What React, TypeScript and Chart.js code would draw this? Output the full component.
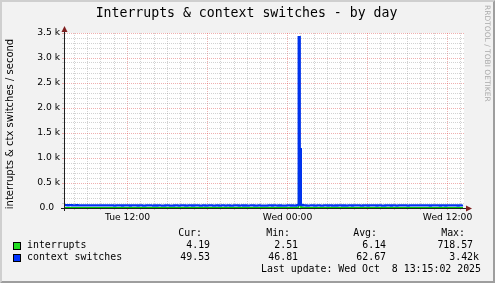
import { useEffect, useRef } from 'react';
import { Chart, registerables } from 'chart.js';

Chart.register(...registerables);

// time in minutes relative to Wed 00:00
const X_MIN = -1006; // Tue 07:14
const X_MAX = 794; // Wed 13:14
const SAMPLE_START = -1005;
const SAMPLE_STEP = 5;

const contextSwitches = [
  58, 57, 55, 56, 54, 55, 57, 56, 53, 54, 52, 53, 56, 55, 54, 53, 51, 52, 53, 54,
  55, 53, 52, 51, 50, 52, 54, 53, 53, 52, 51, 50, 55, 54, 52, 53, 50, 51, 53, 52,
  52, 51, 54, 53, 51, 50, 49, 50, 53, 52, 52, 51, 50, 49, 51, 52, 54, 53, 52, 51,
  49, 50, 51, 52, 53, 51, 50, 49, 52, 51, 51, 50, 48, 49, 50, 51, 53, 52, 51, 50,
  50, 49, 52, 51, 49, 50, 51, 50, 50, 49, 48, 49, 52, 51, 51, 50, 49, 50, 48, 49,
  53, 52, 51, 50, 49, 50, 52, 51, 50, 51, 48, 49, 50, 51, 52, 51, 49, 48, 51, 50,
  52, 51, 50, 49, 49, 50, 51, 52, 48, 49, 50, 51, 52, 51, 50, 49, 49, 50, 51, 52,
  48, 49, 50, 51, 52, 50, 49, 50, 51, 52, 48, 49, 49, 50, 51, 50, 52, 51, 49, 50,
  50, 51, 48, 49, 51, 50, 49, 50, 50, 51, 52, 51, 48, 49, 49, 50, 51, 50, 49, 50,
  50, 49, 48, 49, 50, 51, 52, 51, 49, 50, 51, 50, 50, 49, 52, 51, 48, 49, 49, 50,
  49, 50, 51, 52, 50, 49, 51, 50, 48, 49, 55, 56, 3420, 1180, 64, 58, 54, 52, 51, 49,
  49, 50, 50, 51, 52, 51, 48, 49, 50, 51, 51, 50, 49, 48, 50, 51, 52, 51, 49, 50,
  51, 52, 48, 49, 50, 51, 49, 50, 52, 51, 50, 49, 51, 52, 48, 49, 50, 51, 53, 52,
  49, 50, 51, 50, 50, 51, 52, 50, 49, 48, 51, 52, 50, 51, 49, 50, 53, 52, 50, 51,
  52, 51, 49, 50, 53, 52, 50, 49, 48, 49, 51, 52, 52, 51, 50, 49, 54, 53, 51, 50,
  49, 50, 52, 51, 50, 52, 53, 51, 52, 50, 49, 50, 51, 52, 54, 53, 51, 50, 52, 51,
  54, 53, 51, 50, 50, 51, 53, 52, 52, 51, 49, 50, 51, 52, 55, 54, 52, 51, 50, 49,
  53, 52, 51, 50, 49, 51, 52, 53, 54, 52, 50, 51, 53, 52, 50, 49, 51, 52, 50, 49.53,
];

const interrupts = [
  7, 7, 6, 6, 6, 7, 7, 6, 5, 5, 5, 6, 6, 6, 5, 5, 5, 5, 6, 6,
  5, 5, 4, 5, 5, 5, 6, 6, 5, 5, 4, 4, 6, 6, 5, 5, 4, 5, 5, 5,
  5, 4, 5, 5, 4, 4, 3, 4, 5, 5, 5, 4, 4, 4, 5, 5, 5, 5, 4, 4,
  4, 4, 5, 5, 5, 4, 4, 4, 5, 5, 4, 4, 3, 3, 4, 4, 5, 5, 4, 4,
  4, 4, 5, 5, 4, 4, 5, 4, 4, 4, 3, 4, 5, 5, 4, 4, 4, 4, 3, 4,
  5, 5, 4, 4, 3, 4, 5, 5, 4, 5, 3, 4, 4, 5, 5, 4, 4, 3, 5, 4,
  5, 5, 4, 4, 4, 4, 5, 5, 3, 4, 4, 5, 5, 4, 4, 4, 4, 4, 5, 5,
  3, 4, 4, 5, 5, 4, 4, 4, 5, 5, 3, 4, 4, 4, 5, 4, 5, 5, 4, 4,
  4, 5, 3, 4, 5, 4, 4, 4, 4, 5, 5, 5, 3, 4, 4, 4, 5, 4, 4, 4,
  4, 4, 3, 4, 4, 5, 5, 5, 4, 4, 5, 4, 4, 4, 5, 5, 3, 4, 4, 4,
  4, 4, 5, 5, 4, 4, 5, 4, 3, 4, 8, 9, 718.57, 260, 14, 9, 6, 5, 5, 4,
  4, 4, 4, 5, 5, 5, 3, 4, 4, 5, 5, 4, 4, 3, 4, 5, 5, 5, 4, 4,
  5, 5, 3, 4, 4, 5, 4, 4, 5, 5, 4, 4, 5, 5, 3, 4, 4, 5, 6, 5,
  4, 4, 5, 4, 4, 5, 5, 4, 4, 3, 5, 5, 4, 5, 4, 4, 6, 5, 4, 5,
  5, 5, 4, 4, 6, 5, 4, 4, 3, 4, 5, 5, 5, 5, 4, 4, 6, 6, 5, 4,
  4, 4, 5, 5, 4, 5, 6, 5, 5, 4, 4, 4, 5, 5, 6, 6, 5, 4, 5, 5,
  6, 6, 5, 4, 4, 5, 6, 5, 5, 5, 4, 4, 5, 5, 6, 6, 5, 5, 4, 4,
  6, 5, 5, 4, 4, 5, 5, 6, 6, 5, 4, 5, 6, 5, 4, 4, 5, 5, 4, 4.19,
];

const xTickLabels: Record<string, string> = {
  '-720': 'Tue 12:00',
  '0': 'Wed 00:00',
  '720': 'Wed 12:00',
};
const Y_MAX = 3500;
const Y_MINOR = 100;
const Y_MAJOR = 500;
const X_MINOR = 60;
const X_MAJOR = 360;

const titleText = 'Interrupts & context switches - by day';
const yTitle = 'interrupts & ctx switches / second';
const legendHeaders = ['Cur:', 'Min:', 'Avg:', 'Max:'];
const seriesNames = ['interrupts', 'context switches'];
const interruptsStats = ['4.19', '2.51', '6.14', '718.57'];
const contextStats = ['49.53', '46.81', '62.67', '3.42k'];
const lastUpdate = 'Last update: Wed Oct  8 13:15:02 2025';
const watermark = 'RRDTOOL / TOBI OETIKER';

const GREEN = '#00cc00';
const GREEN_BOX = '#22dd22';
const BLUE = '#0033ee';
const BLUE_BOX = '#0033ff';
const GRID = 'rgba(143,143,143,0.4)';
const MGRID = 'rgba(222,79,79,0.45)';
const AXIS = '#1f1f1f';
const ARROW = '#7f1f1f';

const decorPlugin = {
  id: 'decor',
  beforeDraw(chart: any) {
    const { ctx, width, height, chartArea } = chart;
    ctx.save();
    ctx.fillStyle = '#f2f2f2';
    ctx.fillRect(0, 0, width, height);
    // 3d border
    ctx.fillStyle = '#cfcfcf';
    ctx.beginPath();
    ctx.moveTo(0, height);
    ctx.lineTo(2, height - 2);
    ctx.lineTo(2, 2);
    ctx.lineTo(width - 2, 2);
    ctx.lineTo(width, 0);
    ctx.lineTo(0, 0);
    ctx.closePath();
    ctx.fill();
    ctx.fillStyle = '#9e9e9e';
    ctx.beginPath();
    ctx.moveTo(2, height - 2);
    ctx.lineTo(width - 2, height - 2);
    ctx.lineTo(width - 2, 2);
    ctx.lineTo(width, 0);
    ctx.lineTo(width, height);
    ctx.lineTo(0, height);
    ctx.closePath();
    ctx.fill();
    ctx.fillStyle = '#ffffff';
    ctx.fillRect(chartArea.left, chartArea.top, chartArea.right - chartArea.left, chartArea.bottom - chartArea.top);
    ctx.restore();
  },
  afterDraw(chart: any) {
    const { ctx, width, chartArea } = chart;
    const { left, right, top, bottom } = chartArea;
    ctx.save();
    // title
    ctx.fillStyle = '#000';
    ctx.font = '13.2px "DejaVu Sans Mono"';
    ctx.textAlign = 'center';
    ctx.textBaseline = 'middle';
    ctx.fillText(titleText, width / 2 - 1, 13.5);

    // y axis title
    ctx.save();
    ctx.translate(10.5, (top + bottom) / 2 + 3.5);
    ctx.rotate(-Math.PI / 2);
    ctx.font = '10px "DejaVu Sans"';
    ctx.textAlign = 'center';
    ctx.textBaseline = 'middle';
    ctx.fillText(yTitle, 0, 0);
    ctx.restore();

    // axis extensions
    ctx.strokeStyle = AXIS;
    ctx.lineWidth = 1;
    ctx.beginPath();
    ctx.moveTo(left + 0.5, bottom + 3);
    ctx.lineTo(left + 0.5, top - 1);
    ctx.moveTo(left - 3, bottom + 0.5);
    ctx.lineTo(right + 3, bottom + 0.5);
    ctx.stroke();
    // arrows
    ctx.fillStyle = ARROW;
    ctx.beginPath();
    ctx.moveTo(left + 0.5, top - 7);
    ctx.lineTo(left + 3.5, top - 1);
    ctx.lineTo(left - 2.5, top - 1);
    ctx.closePath();
    ctx.fill();
    ctx.beginPath();
    ctx.moveTo(right + 8, bottom + 0.5);
    ctx.lineTo(right + 2, bottom + 3.5);
    ctx.lineTo(right + 2, bottom - 2.5);
    ctx.closePath();
    ctx.fill();

    // legend
    ctx.fillStyle = '#000';
    ctx.font = '9.9px "DejaVu Sans Mono"';
    ctx.textBaseline = 'middle';
    ctx.textAlign = 'right';
    const headerX = [202, 290, 377, 465];
    const valueX = [216, 304, 392, 479];
    legendHeaders.forEach((h, i) => ctx.fillText(h, headerX[i], 233.5));
    const rows = [
      { name: seriesNames[0], stats: interruptsStats, color: GREEN_BOX, y: 245.5 },
      { name: seriesNames[1], stats: contextStats, color: BLUE_BOX, y: 257.5 },
    ];
    rows.forEach((r) => {
      ctx.fillStyle = r.color;
      ctx.fillRect(13, Math.round(r.y) - 4, 8, 8);
      ctx.strokeStyle = '#000';
      ctx.lineWidth = 1;
      ctx.strokeRect(13.5, Math.round(r.y) - 3.5, 7, 7);
      ctx.fillStyle = '#000';
      ctx.textAlign = 'left';
      ctx.fillText(r.name, 27, r.y);
      ctx.textAlign = 'right';
      r.stats.forEach((s, i) => {
        const txt = /[a-zA-Z]$/.test(s) ? s : s + ' ';
        ctx.fillText(txt, valueX[i], r.y);
      });
    });
    ctx.fillText(lastUpdate, 481, 269.5);

    // watermark
    ctx.save();
    ctx.translate(487, 5);
    ctx.rotate(Math.PI / 2);
    ctx.font = '7.5px "DejaVu Sans"';
    ctx.fillStyle = '#ababab';
    ctx.textAlign = 'left';
    ctx.textBaseline = 'middle';
    ctx.fillText(watermark, 0, 0);
    ctx.restore();

    ctx.restore();
  },
};

export default function App() {
  const ref = useRef<HTMLCanvasElement>(null);
  useEffect(() => {
    if (!ref.current) return;
    const toPoints = (arr: number[]) => arr.map((v, i) => ({ x: SAMPLE_START + i * SAMPLE_STEP, y: v }));
    const tickFont = { family: 'DejaVu Sans', size: 9.2 };
    const chart = new Chart(ref.current, {
      type: 'line',
      data: {
        datasets: [
          {
            label: seriesNames[1],
            data: toPoints(contextSwitches),
            borderColor: BLUE,
            borderWidth: 2.2,
            pointRadius: 0,
            stepped: 'after',
            fill: false,
          },
          {
            label: seriesNames[0],
            data: toPoints(interrupts),
            borderColor: GREEN,
            borderWidth: 1.5,
            pointRadius: 0,
            stepped: 'after',
            fill: false,
          },
        ],
      },
      options: {
        responsive: false,
        animation: false,
        events: [],
        layout: { padding: { top: 33, right: 31, left: 0, bottom: 0 } },
        plugins: {
          legend: { display: false },
          tooltip: { enabled: false },
          title: { display: false },
        },
        scales: {
          x: {
            type: 'linear',
            min: X_MIN,
            max: X_MAX,
            afterBuildTicks: (s: any) => {
              const t = [];
              for (let v = Math.ceil(X_MIN / X_MINOR) * X_MINOR; v <= X_MAX; v += X_MINOR) t.push({ value: v });
              s.ticks = t;
            },
            afterFit: (s: any) => {
              s.height = 75;
            },
            grid: {
              color: (c: any) => (c.tick && c.tick.value % X_MAJOR === 0 ? MGRID : GRID),
              lineWidth: 1,
              tickLength: 2,
            },
            border: { display: true, color: AXIS, dash: [1, 1] },
            ticks: {
              autoSkip: false,
              maxRotation: 0,
              minRotation: 0,
              padding: 2,
              color: '#000',
              font: tickFont,
              callback: (v: any) => xTickLabels[String(v)] ?? '',
            },
          },
          y: {
            type: 'linear',
            min: 0,
            max: Y_MAX,
            afterBuildTicks: (s: any) => {
              const t = [];
              for (let v = 0; v <= Y_MAX; v += Y_MINOR) t.push({ value: v });
              s.ticks = t;
            },
            afterFit: (s: any) => {
              s.width = 64;
            },
            grid: {
              color: (c: any) => (c.tick && c.tick.value % Y_MAJOR === 0 ? MGRID : GRID),
              lineWidth: 1,
              tickLength: 2,
            },
            border: { display: true, color: AXIS, dash: [1, 1] },
            ticks: {
              autoSkip: false,
              padding: 2,
              color: '#000',
              font: tickFont,
              callback: (v: any) => {
                if (v % Y_MAJOR !== 0) return '';
                if (v === 0) return '0.0  ';
                return (v / 1000).toFixed(1) + ' k';
              },
            },
          },
        },
      },
      plugins: [decorPlugin],
    });
    return () => chart.destroy();
  }, []);
  return (
    <div style={{ position: 'fixed', left: 0, top: 0, width: 495, height: 283 }}>
      <canvas ref={ref} width={495} height={283} style={{ display: 'block' }} />
    </div>
  );
}
